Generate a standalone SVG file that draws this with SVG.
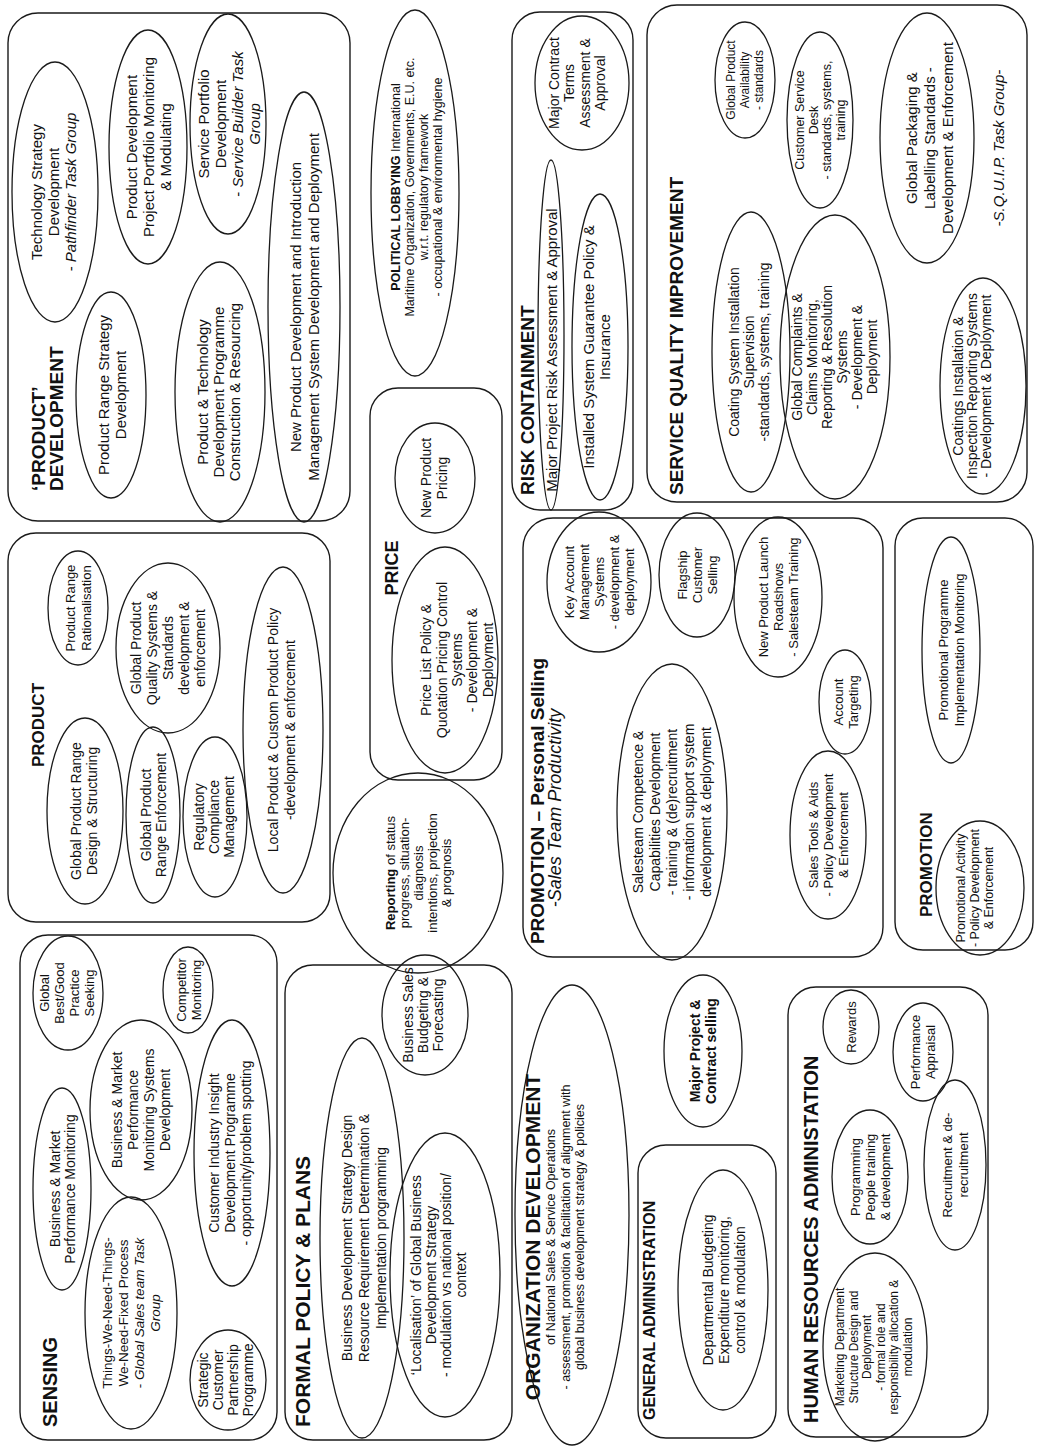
<svg xmlns="http://www.w3.org/2000/svg" width="1043" height="1455" viewBox="0 0 1043 1455">
<style>
.box{fill:none;stroke:#1a1a1a;stroke-width:1.4}
.ell{fill:none;stroke:#1a1a1a;stroke-width:1.3}
text{font-family:"Liberation Sans",Arial,sans-serif;fill:#111;dominant-baseline:central}
.t{text-anchor:middle}
.ttl{font-weight:bold}
.b{font-weight:bold}
.i{font-style:italic}
.f12{font-size:12px}.f125{font-size:12.5px}.f13{font-size:13px}.f135{font-size:13.5px}.f14{font-size:14px}.f15{font-size:15px}
</style>
<rect x="0" y="0" width="1043" height="1455" fill="#fff"/>
<g transform="matrix(0,-1,1,0,0,1455)">
<g id="connectors"></g>

<g id="product-development">
<rect class="box" x="934" y="8" width="508" height="342" rx="30"/>
<text class="ttl" style="font-size:19px"><tspan x="964" y="38">‘PRODUCT’</tspan><tspan x="964" y="56">DEVELOPMENT</tspan></text>
<ellipse class="ell" cx="1263" cy="55" rx="130" ry="43"/>
<text class="t f15"><tspan x="1263" y="36">Technology Strategy</tspan><tspan x="1263" y="53">Development</tspan><tspan x="1263" y="70">- <tspan class="i">Pathfinder Task Group</tspan></tspan></text>
<ellipse class="ell" cx="1308" cy="148" rx="117" ry="39"/>
<text class="t f15"><tspan x="1308" y="131">Product Development</tspan><tspan x="1308" y="148">Project Portfolio Monitoring</tspan><tspan x="1308" y="165">&amp; Modulating</tspan></text>
<ellipse class="ell" cx="1331" cy="228" rx="110" ry="38"/>
<text class="t f15"><tspan x="1331" y="203">Service Portfolio</tspan><tspan x="1331" y="220">Development</tspan><tspan x="1331" y="237">- <tspan class="i">Service Builder Task</tspan></tspan><tspan x="1331" y="254" class="i">Group</tspan></text>
<ellipse class="ell" cx="1060" cy="111" rx="103" ry="35"/>
<text class="t f15"><tspan x="1060" y="103">Product Range Strategy</tspan><tspan x="1060" y="120">Development</tspan></text>
<ellipse class="ell" cx="1063" cy="220" rx="130" ry="45"/>
<text class="t f15"><tspan x="1063" y="202">Product &amp; Technology</tspan><tspan x="1063" y="218">Development Programme</tspan><tspan x="1063" y="234">Construction &amp; Resourcing</tspan></text>
<ellipse class="ell" cx="1148" cy="304" rx="215" ry="36"/>
<text class="t f15"><tspan x="1148" y="295">New Product Development and Introduction</tspan><tspan x="1148" y="313">Management System Development and Deployment</tspan></text>
</g>

<g id="political-lobbying">
<ellipse class="ell" cx="1262" cy="415" rx="183" ry="44"/>
<text class="t f125"><tspan x="1268" y="396"><tspan class="b">POLITICAL LOBBYING</tspan> International</tspan><tspan x="1268" y="410">Maritime Organization, Governments, E.U. etc.</tspan><tspan x="1268" y="424">w.r.t. regulatory framework</tspan><tspan x="1268" y="438">- occupational &amp; environmental hygiene</tspan></text>
</g>

<g id="risk-containment">
<rect class="box" x="945" y="512" width="498" height="121" rx="28"/>
<text class="ttl" x="960" y="527" style="font-size:19px">RISK CONTAINMENT</text>
<ellipse class="ell" cx="1372" cy="582" rx="67" ry="47"/>
<text class="t f14"><tspan x="1372" y="554">Major Contract</tspan><tspan x="1372" y="569">Terms</tspan><tspan x="1372" y="585">Assessment &amp;</tspan><tspan x="1372" y="600">Approval</tspan></text>
<ellipse class="ell" cx="1120" cy="551" rx="175" ry="13"/>
<text class="t f15" x="1105" y="551">Major Project Risk Assessment &amp; Approval</text>
<ellipse class="ell" cx="1108" cy="600" rx="153" ry="28"/>
<text class="t f15"><tspan x="1108" y="588">Installed System Guarantee Policy &amp;</tspan><tspan x="1108" y="604">Insurance</tspan></text>
</g>

<g id="service-quality-improvement">
<rect class="box" x="953" y="647" width="497" height="380" rx="30"/>
<text class="ttl" x="960" y="676" style="font-size:19px">SERVICE QUALITY IMPROVEMENT</text>
<ellipse class="ell" cx="1375" cy="745" rx="58" ry="30"/>
<text class="t f12"><tspan x="1375" y="731">Global Product</tspan><tspan x="1375" y="745">Availability</tspan><tspan x="1375" y="759">- standards</tspan></text>
<ellipse class="ell" cx="1103" cy="751" rx="140" ry="39"/>
<text class="t f14"><tspan x="1103" y="734">Coating System Installation</tspan><tspan x="1103" y="749">Supervision</tspan><tspan x="1103" y="764">-standards, systems, training</tspan></text>
<ellipse class="ell" cx="1335" cy="820" rx="88" ry="33"/>
<text class="t f125"><tspan x="1335" y="800">Customer Service</tspan><tspan x="1335" y="813.5">Desk</tspan><tspan x="1335" y="827">- standards, systems,</tspan><tspan x="1335" y="840.5">training</tspan></text>
<ellipse class="ell" cx="1098" cy="835" rx="142" ry="55"/>
<text class="t f14"><tspan x="1098" y="797">Global Complaints &amp;</tspan><tspan x="1098" y="812">Claims Monitoring,</tspan><tspan x="1098" y="827">Reporting &amp; Resolution</tspan><tspan x="1098" y="842">Systems</tspan><tspan x="1098" y="857">- Development &amp;</tspan><tspan x="1098" y="872">Deployment</tspan></text>
<ellipse class="ell" cx="1317" cy="927" rx="125" ry="47"/>
<text class="t f15"><tspan x="1317" y="911">Global Packaging &amp;</tspan><tspan x="1317" y="929">Labelling Standards -</tspan><tspan x="1317" y="947">Development &amp; Enforcement</tspan></text>
<ellipse class="ell" cx="1069" cy="983" rx="108" ry="43"/>
<text class="t f14"><tspan x="1069" y="958">Coatings Installation &amp;</tspan><tspan x="1069" y="972">Inspection Reporting Systems</tspan><tspan x="1069" y="986">- Development &amp; Deployment</tspan></text>
<text class="t f15 i" x="1307" y="998">-S.Q.U.I.P. Task Group-</text>
</g>

<g id="product">
<rect class="box" x="533" y="8" width="389" height="322" rx="28"/>
<text class="t ttl" x="730" y="38" style="font-size:17px">PRODUCT</text>
<ellipse class="ell" cx="847" cy="78" rx="57" ry="30"/>
<text class="t f13"><tspan x="847" y="70">Product Range</tspan><tspan x="847" y="86">Rationalisation</tspan></text>
<ellipse class="ell" cx="807" cy="168" rx="85" ry="52"/>
<text class="t f14"><tspan x="807" y="136">Global Product</tspan><tspan x="807" y="152">Quality Systems &amp;</tspan><tspan x="807" y="168">Standards</tspan><tspan x="807" y="184">development &amp;</tspan><tspan x="807" y="200">enforcement</tspan></text>
<ellipse class="ell" cx="725" cy="283" rx="163" ry="40"/>
<text class="t f14"><tspan x="725" y="273">Local Product &amp; Custom Product Policy</tspan><tspan x="725" y="290">-development &amp; enforcement</tspan></text>
<ellipse class="ell" cx="644" cy="85" rx="93" ry="38"/>
<text class="t f14"><tspan x="644" y="76">Global Product Range</tspan><tspan x="644" y="92">Design &amp; Structuring</tspan></text>
<ellipse class="ell" cx="640" cy="153" rx="88" ry="27"/>
<text class="t f14"><tspan x="640" y="146">Global Product</tspan><tspan x="640" y="161">Range Enforcement</tspan></text>
<ellipse class="ell" cx="638" cy="215" rx="80" ry="32"/>
<text class="t f14"><tspan x="638" y="199">Regulatory</tspan><tspan x="638" y="214">Compliance</tspan><tspan x="638" y="229">Management</tspan></text>
</g>

<g id="price">
<rect class="box" x="675" y="370" width="392" height="132" rx="28"/>
<text class="t ttl" x="887" y="392" style="font-size:18px">PRICE</text>
<ellipse class="ell" cx="977" cy="435" rx="55" ry="40"/>
<text class="t f14"><tspan x="977" y="426">New Product</tspan><tspan x="977" y="442">Pricing</tspan></text>
<ellipse class="ell" cx="795" cy="445" rx="113" ry="53"/>
<text class="t f14"><tspan x="795" y="426">Price List Policy &amp;</tspan><tspan x="795" y="442">Quotation Pricing Control</tspan><tspan x="795" y="457">Systems</tspan><tspan x="795" y="472">- Development &amp;</tspan><tspan x="795" y="488">Deployment</tspan></text>
</g>

<g id="reporting">
<ellipse class="ell" cx="582" cy="418" rx="100" ry="85"/>
<text class="t f13"><tspan x="582" y="390"><tspan class="b">Reporting</tspan> of status</tspan><tspan x="582" y="404">progress, situation-</tspan><tspan x="582" y="418">diagnosis</tspan><tspan x="582" y="432">intentions, projection</tspan><tspan x="582" y="446">&amp; prognosis</tspan></text>
</g>

<g id="promotion-personal-selling">
<rect class="box" x="498" y="523" width="439" height="360" rx="30"/>
<text class="t ttl" x="654" y="537" style="font-size:19px">PROMOTION – Personal Selling</text>
<text class="t i" x="647" y="555" style="font-size:18px">-Sales Team Productivity</text>
<ellipse class="ell" cx="873" cy="599" rx="70" ry="52"/>
<text class="t f13"><tspan x="873" y="569">Key Account</tspan><tspan x="873" y="584">Management</tspan><tspan x="873" y="599">Systems</tspan><tspan x="873" y="614">- development &amp;</tspan><tspan x="873" y="629">deployment</tspan></text>
<ellipse class="ell" cx="880" cy="697" rx="62" ry="38"/>
<text class="t f13"><tspan x="880" y="682">Flagship</tspan><tspan x="880" y="697">Customer</tspan><tspan x="880" y="712">Selling</tspan></text>
<ellipse class="ell" cx="858" cy="778" rx="80" ry="44"/>
<text class="t f13"><tspan x="858" y="763">New Product Launch</tspan><tspan x="858" y="778">Roadshows</tspan><tspan x="858" y="793">- Salesteam Training</tspan></text>
<ellipse class="ell" cx="753" cy="845" rx="52" ry="26"/>
<text class="t f13"><tspan x="753" y="838">Account</tspan><tspan x="753" y="853">Targeting</tspan></text>
<ellipse class="ell" cx="643" cy="672" rx="148" ry="55"/>
<text class="t f14"><tspan x="643" y="638">Salesteam Competence &amp;</tspan><tspan x="643" y="655">Capabilities Development</tspan><tspan x="643" y="672">- training &amp; (de)recruitment</tspan><tspan x="643" y="689">- information support system</tspan><tspan x="643" y="706">development &amp; deployment</tspan></text>
<ellipse class="ell" cx="620" cy="828" rx="84" ry="38"/>
<text class="t f13"><tspan x="620" y="813">Sales Tools &amp; Aids</tspan><tspan x="620" y="828">- Policy Development</tspan><tspan x="620" y="843">&amp; Enforcement</tspan></text>
</g>

<g id="promotion">
<rect class="box" x="505" y="895" width="432" height="138" rx="28"/>
<text class="ttl" x="538" y="926" style="font-size:17px">PROMOTION</text>
<ellipse class="ell" cx="805" cy="951" rx="113" ry="29"/>
<text class="t f13"><tspan x="805" y="943">Promotional Programme</tspan><tspan x="805" y="959">Implementation Monitoring</tspan></text>
<ellipse class="ell" cx="567" cy="980" rx="67" ry="44"/>
<text class="t f125"><tspan x="567" y="961">Promotional Activity</tspan><tspan x="567" y="975">- Policy Development</tspan><tspan x="567" y="989">&amp; Enforcement</tspan></text>
</g>

<g id="sensing">
<rect class="box" x="15" y="20" width="505" height="257" rx="28"/>
<text class="ttl" x="28" y="50" style="font-size:20px">SENSING</text>
<ellipse class="ell" cx="266" cy="62" rx="101" ry="29"/>
<text class="t f14"><tspan x="266" y="55">Business &amp; Market</tspan><tspan x="266" y="70">Performance Monitoring</tspan></text>
<ellipse class="ell" cx="462" cy="68" rx="57" ry="35"/>
<text class="t f13"><tspan x="462" y="44">Global</tspan><tspan x="462" y="59">Best/Good</tspan><tspan x="462" y="74">Practice</tspan><tspan x="462" y="89">Seeking</tspan></text>
<ellipse class="ell" cx="345" cy="141" rx="90" ry="51"/>
<text class="t f14"><tspan x="345" y="117">Business &amp; Market</tspan><tspan x="345" y="133">Performance</tspan><tspan x="345" y="149">Monitoring Systems</tspan><tspan x="345" y="165">Development</tspan></text>
<ellipse class="ell" cx="465" cy="188" rx="43" ry="25"/>
<text class="t f13"><tspan x="465" y="181">Competitor</tspan><tspan x="465" y="196">Monitoring</tspan></text>
<ellipse class="ell" cx="302" cy="232" rx="133" ry="38"/>
<text class="t f14"><tspan x="302" y="214">Customer Industry Insight</tspan><tspan x="302" y="230">Development Programme</tspan><tspan x="302" y="246">- opportunity/problem spotting</tspan></text>
<ellipse class="ell" cx="142" cy="131" rx="116" ry="46"/>
<text class="t f135"><tspan x="142" y="107">Things-We-Need-Things-</tspan><tspan x="142" y="123">We-Need-Fixed Process</tspan><tspan x="142" y="139">- <tspan class="i">Global Sales team Task</tspan></tspan><tspan x="142" y="155" class="i">Group</tspan></text>
<ellipse class="ell" cx="75" cy="228" rx="50" ry="38"/>
<text class="t f14"><tspan x="75" y="203">Strategic</tspan><tspan x="75" y="218">Customer</tspan><tspan x="75" y="233">Partnership</tspan><tspan x="75" y="248">Programme</tspan></text>
</g>

<g id="formal-policy-plans">
<rect class="box" x="15" y="285" width="475" height="227" rx="28"/>
<text class="ttl" x="28" y="302" style="font-size:21px">FORMAL POLICY &amp; PLANS</text>
<ellipse class="ell" cx="217" cy="362" rx="200" ry="42"/>
<text class="t f14"><tspan x="217" y="347">Business Development Strategy Design</tspan><tspan x="217" y="364">Resource Requirement Determination &amp;</tspan><tspan x="217" y="381">Implementation programming</tspan></text>
<ellipse class="ell" cx="440" cy="425" rx="60" ry="43"/>
<text class="t f14"><tspan x="440" y="408">Business Sales</tspan><tspan x="440" y="423">Budgeting &amp;</tspan><tspan x="440" y="438">Forecasting</tspan></text>
<ellipse class="ell" cx="180" cy="445" rx="142" ry="55"/>
<text class="t f14"><tspan x="180" y="416">‘Localisation’ of Global Business</tspan><tspan x="180" y="431">Development Strategy</tspan><tspan x="180" y="446">- modulation vs national position/</tspan><tspan x="180" y="461">context</tspan></text>
</g>

<g id="organization-development">
<ellipse class="ell" cx="240" cy="572" rx="230" ry="57"/>
<text class="t"><tspan x="218" y="532" class="b" style="font-size:21px">ORGANIZATION DEVELOPMENT</tspan><tspan x="218" y="551" class="f125">of National Sales &amp; Service Operations</tspan><tspan x="218" y="566" class="f125">- assessment, promotion &amp; facilitation of alignment with</tspan><tspan x="218" y="580" class="f125">global business development strategy &amp; policies</tspan></text>
</g>

<g id="general-administration">
<rect class="box" x="17" y="638" width="293" height="138" rx="28"/>
<text class="ttl" x="35" y="649" style="font-size:16px">GENERAL ADMINISTRATION</text>
<ellipse class="ell" cx="165" cy="723" rx="120" ry="45"/>
<text class="t f14"><tspan x="165" y="708">Departmental Budgeting</tspan><tspan x="165" y="724">Expenditure monitoring,</tspan><tspan x="165" y="740">control &amp; modulation</tspan></text>
</g>

<g id="major-project-contract-selling">
<ellipse class="ell" cx="404" cy="703" rx="76" ry="39"/>
<text class="t f14 b"><tspan x="404" y="695">Major Project &amp;</tspan><tspan x="404" y="711">Contract selling</tspan></text>
</g>

<g id="human-resources">
<rect class="box" x="18" y="788" width="450" height="200" rx="28"/>
<text class="ttl" x="32" y="811" style="font-size:20px">HUMAN RESOURCES ADMINISTATION</text>
<ellipse class="ell" cx="108" cy="875" rx="94" ry="52"/>
<text class="t f12"><tspan x="108" y="840">Marketing Department</tspan><tspan x="108" y="853.5">Structure Design and</tspan><tspan x="108" y="867">Deployment</tspan><tspan x="108" y="880.5">- formal role and</tspan><tspan x="108" y="894">responsibility allocation &amp;</tspan><tspan x="108" y="907.5">modulation</tspan></text>
<ellipse class="ell" cx="278" cy="870" rx="67" ry="38"/>
<text class="t f13"><tspan x="278" y="855">Programming</tspan><tspan x="278" y="870">People training</tspan><tspan x="278" y="885">&amp; development</tspan></text>
<ellipse class="ell" cx="290" cy="955" rx="85" ry="31"/>
<text class="t f13"><tspan x="290" y="947">Recruitment &amp; de-</tspan><tspan x="290" y="963">recruitment</tspan></text>
<ellipse class="ell" cx="428" cy="851" rx="37" ry="28"/>
<text class="t f13" x="428" y="851">Rewards</text>
<ellipse class="ell" cx="403" cy="923" rx="49" ry="30"/>
<text class="t f13"><tspan x="403" y="915">Performance</tspan><tspan x="403" y="930">Appraisal</tspan></text>
</g>
</g>
</svg>
